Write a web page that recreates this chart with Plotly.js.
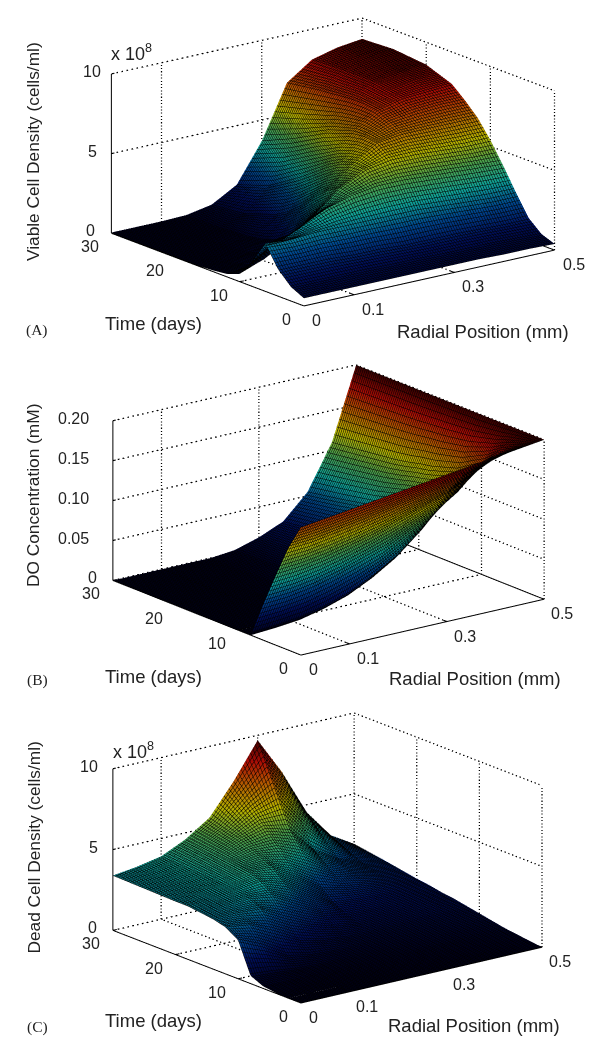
<!DOCTYPE html>
<html>
<head>
<meta charset="utf-8">
<script src="https://cdn.plot.ly/plotly-3.0.1.min.js"></script>
<style>html,body{margin:0;padding:0;background:#fff}#chart{width:600px;height:1050px}</style>
</head>
<body>
<div id="chart"></div>
<script>
// ---- shared grid
const radialPositions = [0,0.05,0.1,0.15,0.2,0.25,0.3,0.35,0.4,0.45,0.5];
const timeDays = [0,2,4,6,8,10,12,14,16,18,20,25,30];

// ---- (A) viable cell density, x 10^8 cells/ml (rows = time, columns = radial position)
const viableDensity = [
 [0.5,0.5,0.5,0.5,0.5,0.5,0.5,0.5,0.45,0.45,0.4],
 [0.9,0.9,0.9,0.9,0.85,0.85,0.8,0.8,0.8,0.75,0.7],
 [1.7,1.7,1.7,1.6,1.6,1.5,1.5,1.5,1.45,1.4,1.4],
 [3.0,2.9,3.0,3.0,3.0,3.0,3.0,2.9,2.8,2.7,2.7],
 [1.6,2.4,3.2,3.9,4.3,4.5,4.5,4.4,4.3,4.2,4.1],
 [0.5,1.1,2.0,3.2,4.5,5.3,5.6,5.6,5.5,5.4,5.4],
 [0.2,0.4,1.0,2.2,4.0,5.3,6.3,6.5,6.5,6.5,6.5],
 [0.1,0.2,0.5,1.3,3.3,5.0,6.4,7.0,7.2,7.3,7.3],
 [0.05,0.1,0.25,0.7,2.5,4.5,6.3,7.4,7.8,7.9,8.0],
 [0.05,0.05,0.15,0.4,1.8,3.9,6.0,7.5,8.0,8.3,8.3],
 [0.05,0.05,0.1,0.25,1.3,3.3,5.7,7.5,8.2,8.5,8.6],
 [0.05,0.05,0.05,0.1,0.6,2.0,4.6,7.3,8.2,8.5,8.8],
 [0.05,0.05,0.05,0.1,0.4,1.3,3.7,7.0,8.1,8.5,8.7]
];

// ---- (B) dissolved oxygen, mM
const doConcentration = [
 [0.16,0.164,0.168,0.172,0.176,0.18,0.184,0.188,0.192,0.196,0.2],
 [0.128,0.13,0.135,0.14,0.146,0.152,0.158,0.165,0.175,0.186,0.2],
 [0.0875,0.09,0.095,0.102,0.11,0.12,0.13,0.14,0.155,0.175,0.2],
 [0.045,0.047,0.052,0.06,0.07,0.08,0.095,0.11,0.13,0.16,0.2],
 [0,0.002,0.005,0.012,0.022,0.037,0.056,0.082,0.115,0.15,0.2],
 [0,0,0.001,0.004,0.012,0.024,0.042,0.068,0.1,0.14,0.2],
 [0,0,0,0.002,0.007,0.018,0.033,0.058,0.09,0.135,0.2],
 [0,0,0,0.001,0.005,0.014,0.028,0.052,0.084,0.13,0.2],
 [0,0,0,0.001,0.004,0.012,0.025,0.047,0.08,0.127,0.2],
 [0,0,0,0,0.003,0.01,0.022,0.042,0.075,0.123,0.2],
 [0,0,0,0,0.002,0.008,0.02,0.038,0.07,0.12,0.2],
 [0,0,0,0,0.001,0.005,0.015,0.03,0.062,0.115,0.2],
 [0,0,0,0,0,0.003,0.012,0.025,0.055,0.11,0.2]
];

// ---- (C) dead cell density, x 10^8 cells/ml
const deadDensity = [
 [0,0,0,0,0,0,0,0,0,0,0],
 [0,0,0,0.02,0.03,0.04,0.05,0.05,0.06,0.08,0.1],
 [0.05,0.05,0.05,0.06,0.08,0.1,0.12,0.14,0.16,0.18,0.2],
 [0.15,0.15,0.12,0.12,0.15,0.18,0.2,0.22,0.25,0.28,0.3],
 [0.5,0.4,0.25,0.22,0.25,0.28,0.32,0.36,0.4,0.42,0.45],
 [2.4,1.7,0.8,0.5,0.42,0.42,0.45,0.5,0.55,0.6,0.6],
 [2.9,2.7,2.0,1.2,0.8,0.6,0.6,0.65,0.7,0.75,0.75],
 [3.1,3.1,3.0,2.2,1.5,1.0,0.8,0.85,0.9,0.95,0.9],
 [3.2,3.3,3.4,3.2,2.4,1.6,1.1,1.05,1.1,1.1,1.0],
 [3.3,3.4,3.6,3.8,3.3,2.4,1.5,1.35,1.3,1.25,1.15],
 [3.3,3.5,3.7,4.1,4.0,3.2,2.2,1.8,1.6,1.4,1.25],
 [3.35,3.55,3.8,4.4,5.0,5.4,5.0,3.4,2.5,1.9,1.6],
 [3.4,3.6,3.9,4.6,5.6,7.5,9.7,7.4,4.6,2.8,1.9]
];

// ---- axes
const radialTicks = [0,0.1,0.3,0.5];
const radialTickLabels = ['0','0.1','0.3','0.5'];
const timeTicks = [0,10,20,30];
const timeTickLabels = ['0','10','20','30'];
const densityTicks = [0,5,10];
const densityTickLabels = ['0','5','10'];
const doTicks = [0,0.05,0.1,0.15,0.2];
const doTickLabels = ['0','0.05','0.10','0.15','0.20'];

// jet, dimmed to the average tone of the colored dots between the black mesh
const jet = [[0,'rgb(0,0,30)'],[0.125,'rgb(0,15,90)'],[0.25,'rgb(0,70,140)'],[0.375,'rgb(15,160,150)'],[0.5,'rgb(75,160,75)'],[0.625,'rgb(180,175,0)'],[0.75,'rgb(180,95,0)'],[0.875,'rgb(170,12,5)'],[1,'rgb(50,0,0)']];

const ASPECT_SCALE = 1.975;
const panels = [
 {id:'scene', z:viableDensity, zTicks:densityTicks, zLabels:densityTickLabels, zMax:10, cmax:9,
  top:1.5, cx:333, eye:[-0.583,-0.759,0.290], aspect:[1,1,0.527],
  zTitle:'Viable Cell Density (cells/ml)', zTitleY:152, tag:'(A)', tagY:330, timeTitleY:323, radTitleX:483, radTitleY:331, expY:53, expX:131, zLX:[-21,-19,-19]},
 {id:'scene2', z:doConcentration, zTicks:doTicks, zLabels:doTickLabels, zMax:0.2, cmax:0.2,
  top:349.5, cx:327.75, eye:[-0.577,-0.759,0.302], aspect:[0.967,0.983,0.53],
  zTitle:'DO Concentration (mM)', zTitleY:496, tag:'(B)', tagY:680, timeTitleY:676, radTitleX:475, radTitleY:678, zLX:[-20,-39,-39,-39,-39]},
 {id:'scene3', z:deadDensity, zTicks:densityTicks, zLabels:densityTickLabels, zMax:10, cmax:9.8,
  top:697.5, cx:326.75, eye:[-0.584,-0.755,0.299], aspect:[0.965,0.972,0.536],
  zTitle:'Dead Cell Density (cells/ml)', zTitleY:847.5, tag:'(C)', tagY:1027, timeTitleY:1020, radTitleX:474, radTitleY:1025, expY:750, expX:133, zLX:[-20,-19,-23]}
];

const H = 320, W = 600, PH = 1050, textColor = '#222', fontFam = 'Liberation Sans, Arial, sans-serif';
const DIST = 1.5;
const traces = [], annotations = [];
const layout = {width:W, height:PH, margin:{l:0,r:0,t:0,b:0}, paper_bgcolor:'#fff', showlegend:false};

function seg(scene, xs, ys, zs, dash, width){
  traces.push({type:'scatter3d', scene, mode:'lines', x:xs, y:ys, z:zs, hoverinfo:'skip', showlegend:false,
    line:{color:'#000', width:width||2.5, dash:dash||'solid'}});
}

panels.forEach(p=>{
  const xEnd = radialTicks[radialTicks.length-1], tEnd = timeTicks[timeTicks.length-1], zEnd = p.zMax;
  traces.push({type:'surface', scene:p.id, x:radialPositions, y:timeDays, z:p.z, colorscale:jet, cmin:0, cmax:p.cmax,
    showscale:false, hoverinfo:'skip', lighting:{ambient:1,diffuse:0,specular:0,roughness:1,fresnel:0},
    contours:{
      x:{show:true,start:0,end:0.5,size:0.005,color:'#000',width:1,highlight:false},
      y:{show:true,start:0,end:30,size:0.3,color:'#000',width:1,highlight:false},
      z:{show:false,highlight:false}
    }});
  // dashed grid on the back walls and floor
  const D = 'dash';
  radialTicks.forEach(v=>{
    if(v>0){ seg(p.id,[v,v],[tEnd,tEnd],[0,zEnd],D); }
    if(v>0 && v<xEnd){ seg(p.id,[v,v],[0,tEnd],[0,0],D); }
  });
  timeTicks.forEach(v=>{
    if(v<tEnd){ seg(p.id,[xEnd,xEnd],[v,v],[0,zEnd],D); }
    if(v>0 && v<tEnd){ seg(p.id,[0,xEnd],[v,v],[0,0],D); }
  });
  p.zTicks.forEach(v=>{ if(v>0){
    seg(p.id,[0,xEnd],[tEnd,tEnd],[v,v],D);
    seg(p.id,[xEnd,xEnd],[tEnd,0],[v,v],D);
  }});
  seg(p.id,[0,xEnd],[tEnd,tEnd],[0,0],D);
  seg(p.id,[xEnd,xEnd],[0,tEnd],[0,0],'solid',2);
  // solid front axes
  seg(p.id,[0,0],[tEnd,tEnd],[0,zEnd],'solid',2);
  seg(p.id,[0,xEnd],[0,0],[0,0],'solid',2);
  seg(p.id,[0,0],[0,tEnd],[0,0],'solid',2);
  // short tick marks
  p.zTicks.forEach(v=>seg(p.id,[0,xEnd*0.012],[tEnd,tEnd],[v,v],'solid',2));
  radialTicks.forEach(v=>seg(p.id,[v,v],[0,tEnd*0.02],[0,0],'solid',2));
  timeTicks.forEach(v=>seg(p.id,[0,xEnd*0.016],[v,v],[0,0],'solid',2));

  const sa = [];
  p.zTicks.forEach((v,i)=>sa.push({x:0,y:tEnd,z:v,text:p.zLabels[i],showarrow:false,xanchor:'center',yanchor:'middle',xshift:p.zLX[i],yshift:2,font:{family:fontFam,size:16,color:textColor}}));
  timeTicks.forEach((v,i)=>sa.push({x:0,y:v,z:0,text:timeTickLabels[i],showarrow:false,xanchor:'center',yanchor:'middle',xshift:v===0?-17:-21,yshift:-14,font:{family:fontFam,size:16,color:textColor}}));
  radialTicks.forEach((v,i)=>sa.push({x:v,y:0,z:0,text:radialTickLabels[i],showarrow:false,xanchor:'center',yanchor:'middle',xshift:v===0?13:19,yshift:-15,font:{family:fontFam,size:16,color:textColor}}));

  const e = p.eye.map(v=>v*DIST);
  layout[p.id] = {
    domain:{x:[Math.max(0,(2*p.cx-W)/W),1], y:[1-(p.top+H)/PH, 1-p.top/PH]},
    bgcolor:'#fff', dragmode:false, hovermode:false,
    aspectmode:'manual', aspectratio:{x:p.aspect[0]*ASPECT_SCALE,y:p.aspect[1]*ASPECT_SCALE,z:p.aspect[2]*ASPECT_SCALE},
    camera:{eye:{x:e[0],y:e[1],z:e[2]}, center:{x:0,y:0,z:0}, up:{x:0,y:0,z:1}, projection:{type:'orthographic'}},
    xaxis:{range:[0,xEnd],visible:false},
    yaxis:{range:[0,tEnd],visible:false},
    zaxis:{range:[0,zEnd],visible:false},
    annotations:sa
  };

  const note = (x,y,text,size,extra)=>annotations.push(Object.assign({xref:'paper',yref:'paper',x:x/W,y:1-y/PH,text,showarrow:false,xanchor:'center',yanchor:'middle',font:{family:fontFam,size,color:textColor}},extra||{}));
  note(33,p.zTitleY,p.zTitle,17.3,{textangle:-90});
  note(153,p.timeTitleY,'Time (days)',18.5);
  note(p.radTitleX,p.radTitleY,'Radial Position (mm)',18.5);
  note(37,p.tagY,p.tag,15,{font:{family:'Liberation Serif, serif',size:15.5,color:textColor}});
  if(p.expY){ note(p.expX,p.expY,'x 10<sup>8</sup>',18); }
});
layout.annotations = annotations;
Plotly.newPlot('chart',traces,layout,{displayModeBar:false});
</script>
</body>
</html>
